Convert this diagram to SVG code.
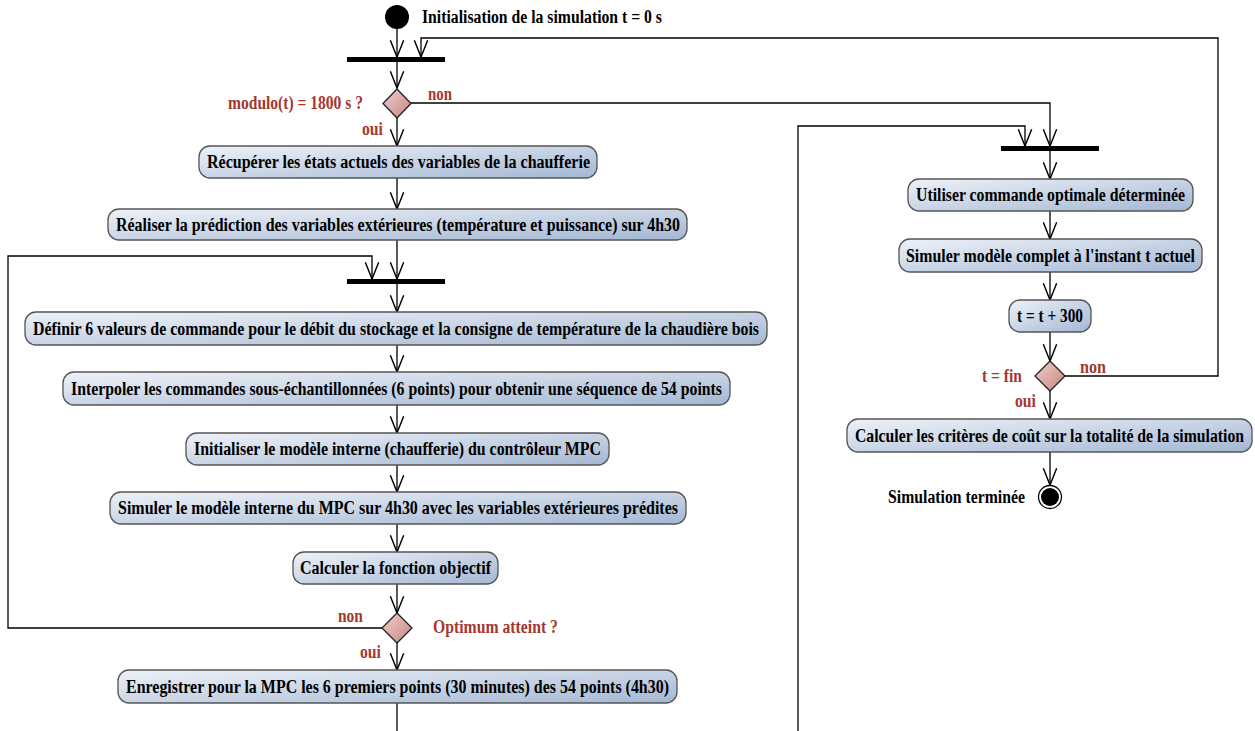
<svg xmlns="http://www.w3.org/2000/svg" width="1255" height="731" viewBox="0 0 1255 731">
<defs>
<linearGradient id="gBox" x1="0" y1="0" x2="1" y2="1">
<stop offset="0" stop-color="#eef2f8"/>
<stop offset="1" stop-color="#a3b7d3"/>
</linearGradient>
<linearGradient id="gDia" x1="0" y1="0" x2="1" y2="1">
<stop offset="0" stop-color="#f0cfcc"/>
<stop offset="1" stop-color="#c78682"/>
</linearGradient>
<marker id="arr" markerUnits="userSpaceOnUse" markerWidth="20" markerHeight="20" viewBox="-16 -8 18 16" refX="0" refY="0" orient="auto" overflow="visible">
<path d="M-15,-6 L0,0 L-15,6" fill="none" stroke="#000" stroke-width="1.3"/>
</marker>
</defs>
<style>
.box{fill:url(#gBox);stroke:#555;stroke-width:1.3}
.dia{fill:url(#gDia);stroke:#222;stroke-width:1.3}
.bar{fill:#000}
.t{font-family:"Liberation Serif","Times New Roman",serif;font-weight:bold;font-size:18px;fill:#000;text-anchor:middle}
.lbl{font-family:"Liberation Serif","Times New Roman",serif;font-weight:bold;font-size:18px;fill:#a3382f}
.blk{font-family:"Liberation Serif","Times New Roman",serif;font-weight:bold;font-size:18px;fill:#000}
.c{fill:none;stroke:#000;stroke-width:1.3}
.ca{fill:none;stroke:#000;stroke-width:1.3;marker-end:url(#arr)}
</style>
<rect width="1255" height="731" fill="#fff"/>

<g id="connectors">
<path class="ca" d="M397,29 V57"/>
<path class="ca" d="M1065,376 H1218 V38 H421 V57"/>
<path class="ca" d="M397,62 V88"/>
<path class="ca" d="M397,118 V146"/>
<path class="ca" d="M411,103 H1050 V146"/>
<path class="ca" d="M397,178 V209"/>
<path class="ca" d="M397,240 V279"/>
<path class="ca" d="M382,628 H8 V256 H372 V279"/>
<path class="ca" d="M397,284 V312"/>
<path class="ca" d="M397,345 V372"/>
<path class="ca" d="M397,405 V433"/>
<path class="ca" d="M397,465 V492"/>
<path class="ca" d="M397,524 V552"/>
<path class="ca" d="M397,584 V613"/>
<path class="ca" d="M397,643 V670"/>
<path class="c" d="M397,703 V731"/>
<path class="ca" d="M798,731 V126 H1025 V146"/>
<path class="ca" d="M1050,151 V179"/>
<path class="ca" d="M1050,211 V239"/>
<path class="ca" d="M1050,272 V300"/>
<path class="ca" d="M1050,332 V361"/>
<path class="ca" d="M1050,391 V419"/>
<path class="ca" d="M1050,452 V485"/>
</g>

<g id="start">
<circle cx="397" cy="17" r="12" fill="#000"/>
<text class="blk" x="422" y="23" textLength="240" lengthAdjust="spacingAndGlyphs">Initialisation de la simulation t = 0 s</text>
</g>
<g id="fork1"><rect class="bar" x="347" y="57" width="98" height="5"/></g>
<g id="decision1">
<path class="dia" d="M397,89 L411,103.5 L397,118 L383,103.5 Z"/>
<text class="lbl" x="228" y="109" textLength="135" lengthAdjust="spacingAndGlyphs">modulo(t) = 1800 s ?</text>
<text class="lbl" x="428" y="100" textLength="24" lengthAdjust="spacingAndGlyphs">non</text>
<text class="lbl" x="362" y="135" textLength="21" lengthAdjust="spacingAndGlyphs">oui</text>
</g>
<g id="n1"><rect class="box" x="199" y="146" width="398" height="32" rx="11"/><text class="t" x="398.5" y="168" textLength="383" lengthAdjust="spacingAndGlyphs">Récupérer les états actuels des variables de la chaufferie</text></g>
<g id="n2"><rect class="box" x="108" y="209" width="579" height="31" rx="11"/><text class="t" x="398" y="230.5" textLength="564" lengthAdjust="spacingAndGlyphs">Réaliser la prédiction des variables extérieures (température et puissance) sur 4h30</text></g>
<g id="fork2"><rect class="bar" x="347" y="279" width="98" height="5"/></g>
<g id="n3"><rect class="box" x="25" y="312" width="742" height="33" rx="11"/><text class="t" x="396" y="334.5" textLength="726" lengthAdjust="spacingAndGlyphs">Définir 6 valeurs de commande pour le débit du stockage et la consigne de température de la chaudière bois</text></g>
<g id="n4"><rect class="box" x="63" y="372" width="667" height="33" rx="11"/><text class="t" x="396.5" y="394.5" textLength="651" lengthAdjust="spacingAndGlyphs">Interpoler les commandes sous-échantillonnées (6 points) pour obtenir une séquence de 54 points</text></g>
<g id="n5"><rect class="box" x="186" y="433" width="423" height="32" rx="11"/><text class="t" x="397.5" y="455" textLength="407" lengthAdjust="spacingAndGlyphs">Initialiser le modèle interne (chaufferie) du contrôleur MPC</text></g>
<g id="n6"><rect class="box" x="110" y="492" width="576" height="32" rx="11"/><text class="t" x="398" y="514" textLength="560" lengthAdjust="spacingAndGlyphs">Simuler le modèle interne du MPC sur 4h30 avec les variables extérieures prédites</text></g>
<g id="n7"><rect class="box" x="293" y="552" width="205" height="32" rx="11"/><text class="t" x="395.5" y="574" textLength="191" lengthAdjust="spacingAndGlyphs">Calculer la fonction objectif</text></g>
<g id="decision2">
<path class="dia" d="M397,613 L412,628 L397,643 L382,628 Z"/>
<text class="lbl" x="338" y="622" textLength="25" lengthAdjust="spacingAndGlyphs">non</text>
<text class="lbl" x="433" y="633" textLength="125" lengthAdjust="spacingAndGlyphs">Optimum atteint ?</text>
<text class="lbl" x="360" y="658" textLength="21" lengthAdjust="spacingAndGlyphs">oui</text>
</g>
<g id="n8"><rect class="box" x="118" y="670" width="559" height="33" rx="11"/><text class="t" x="397.5" y="692.5" textLength="543" lengthAdjust="spacingAndGlyphs">Enregistrer pour la MPC les 6 premiers points (30 minutes) des 54 points (4h30)</text></g>
<g id="fork3"><rect class="bar" x="1001" y="146" width="98" height="5"/></g>
<g id="n9"><rect class="box" x="908" y="179" width="285" height="32" rx="11"/><text class="t" x="1050.5" y="201" textLength="269" lengthAdjust="spacingAndGlyphs">Utiliser commande optimale déterminée</text></g>
<g id="n10"><rect class="box" x="899" y="239" width="303" height="33" rx="11"/><text class="t" x="1050.5" y="261.5" textLength="289" lengthAdjust="spacingAndGlyphs">Simuler modèle complet à l'instant t actuel</text></g>
<g id="n11"><rect class="box" x="1009" y="300" width="82" height="32" rx="11"/><text class="t" x="1050" y="322" textLength="66" lengthAdjust="spacingAndGlyphs">t = t + 300</text></g>
<g id="decision3">
<path class="dia" d="M1050,361 L1065,376 L1050,391 L1035,376 Z"/>
<text class="lbl" x="982" y="382" textLength="40" lengthAdjust="spacingAndGlyphs">t = fin</text>
<text class="lbl" x="1080" y="373" textLength="26" lengthAdjust="spacingAndGlyphs">non</text>
<text class="lbl" x="1015" y="407" textLength="21" lengthAdjust="spacingAndGlyphs">oui</text>
</g>
<g id="n12"><rect class="box" x="847" y="419" width="405" height="33" rx="11"/><text class="t" transform="translate(1049.5,441.5) scale(0.875,1)" x="0" y="0">Calculer les critères de coût sur la totalité de la simulation</text></g>
<g id="end">
<circle cx="1050" cy="497" r="11.5" fill="#fff" stroke="#000" stroke-width="1.3"/>
<circle cx="1050" cy="497" r="9" fill="#000"/>
<text class="blk" x="888" y="503" textLength="137" lengthAdjust="spacingAndGlyphs">Simulation terminée</text>
</g>
</svg>
